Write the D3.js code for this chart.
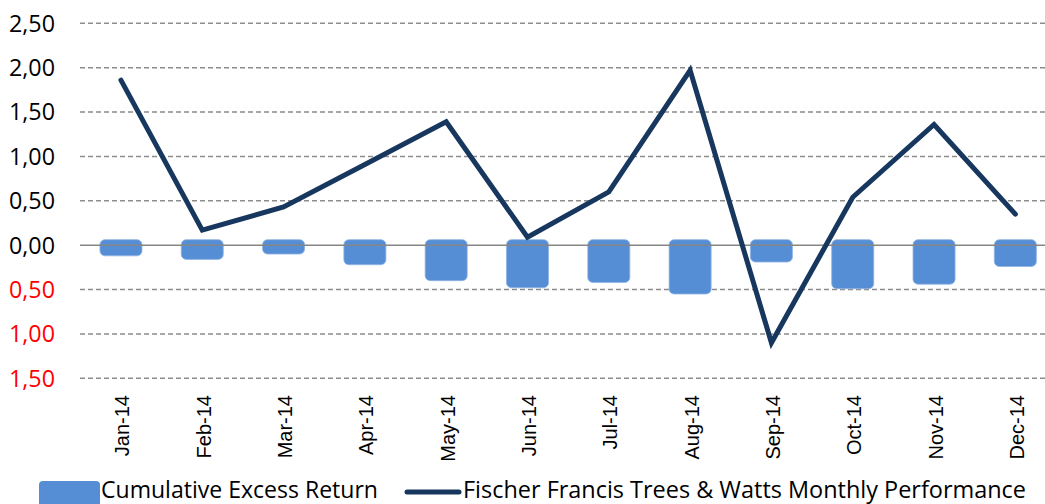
<!DOCTYPE html>
<html>
<head>
<meta charset="utf-8">
<script src="https://cdn.jsdelivr.net/npm/d3@7"></script>
<style>
  html, body { margin: 0; padding: 0; background: #fff; overflow: hidden; }
  svg { display: block; }
</style>
</head>
<body>
<svg id="chart" width="1045" height="504"></svg>
<script>
const months = ["Jan-14","Feb-14","Mar-14","Apr-14","May-14","Jun-14","Jul-14","Aug-14","Sep-14","Oct-14","Nov-14","Dec-14"];
const cumulativeExcess = [-0.12,-0.16,-0.10,-0.22,-0.40,-0.48,-0.42,-0.55,-0.19,-0.49,-0.44,-0.24];
const monthlyPerformance = [1.86,0.17,0.43,0.91,1.39,0.09,0.60,1.97,-1.10,0.54,1.36,0.35];
const yTicks = [-1.5,-1.0,-0.5,0,0.5,1.0,1.5,2.0,2.5];
const seriesNames = ["Cumulative Excess Return","Fischer Francis Trees & Watts Monthly Performance"];

const svg = d3.select("#chart");
const narrow = "'Liberation Sans Narrow','Arial Narrow','Open Sans',sans-serif";

const y = d3.scaleLinear().domain([-1.5, 2.5]).range([378.3, 23.3]);
const x = d3.scaleBand().domain(months).range([80.3, 1056]).paddingInner(0.483).paddingOuter(0.2415);
const cx = d => x(d) + x.bandwidth() / 2;

// gridlines
svg.append("g").selectAll("line").data(yTicks.filter(t => t !== 0)).join("line")
  .attr("x1", 80).attr("x2", 1045)
  .attr("y1", d => y(d)).attr("y2", d => y(d))
  .attr("stroke", "#8c8c8c").attr("stroke-width", 1.4).attr("stroke-dasharray", "5,3");

// y labels
const fmt = v => d3.format(".2f")(Math.abs(v)).replace(".", ",");
svg.append("g").selectAll("text").data(yTicks).join("text")
  .attr("x", 55).attr("y", d => y(d)).attr("dy", "0.35em")
  .attr("text-anchor", "end")
  .attr("font-family", narrow).attr("font-size", 24)
  .attr("textLength", 46).attr("lengthAdjust", "spacingAndGlyphs")
  .attr("fill", d => d < 0 ? "#ff0000" : "#000")
  .text(fmt);

// bars
svg.append("g").selectAll("rect").data(months).join("rect")
  .attr("x", d => x(d))
  .attr("width", x.bandwidth())
  .attr("y", y(0) - 5.5)
  .attr("height", (d, i) => y(cumulativeExcess[i]) - y(0) + 5.5)
  .attr("rx", 5).attr("ry", 5)
  .attr("fill", "#558ed5")
  .attr("stroke", "#8fb4e3").attr("stroke-width", 0.8);

// zero line
svg.append("line").attr("x1", 80).attr("x2", 1045)
  .attr("y1", y(0)).attr("y2", y(0))
  .attr("stroke", "#868686").attr("stroke-width", 1.6);

// line
const line = d3.line().x((d, i) => cx(months[i])).y(d => y(d));
svg.append("path").datum(monthlyPerformance)
  .attr("d", line)
  .attr("fill", "none").attr("stroke", "#17375e").attr("stroke-width", 5)
  .attr("stroke-linejoin", "miter").attr("stroke-linecap", "round");

// x labels
svg.append("g").selectAll("text").data(months).join("text")
  .attr("transform", d => `translate(${cx(d) + 1.5},395) rotate(-90)`)
  .attr("text-anchor", "end").attr("dy", "0.35em")
  .attr("font-family", "'Liberation Sans',Arial,sans-serif").attr("font-size", 20)
  .attr("fill", "#000")
  .text(d => d);

// legend
const lg = svg.append("g");
lg.append("rect").attr("x", 39).attr("y", 481).attr("width", 61).attr("height", 30)
  .attr("rx", 4).attr("fill", "#558ed5");
lg.append("text").attr("x", 101).attr("y", 498)
  .attr("font-family", narrow).attr("font-size", 23)
  .attr("textLength", 277).attr("lengthAdjust", "spacingAndGlyphs")
  .attr("fill", "#000").text(seriesNames[0]);
lg.append("line").attr("x1", 407).attr("x2", 459).attr("y1", 492).attr("y2", 492)
  .attr("stroke", "#17375e").attr("stroke-width", 5).attr("stroke-linecap", "round");
lg.append("text").attr("x", 463).attr("y", 498)
  .attr("font-family", narrow).attr("font-size", 23)
  .attr("textLength", 563).attr("lengthAdjust", "spacingAndGlyphs")
  .attr("fill", "#000").text(seriesNames[1]);
</script>
</body>
</html>
